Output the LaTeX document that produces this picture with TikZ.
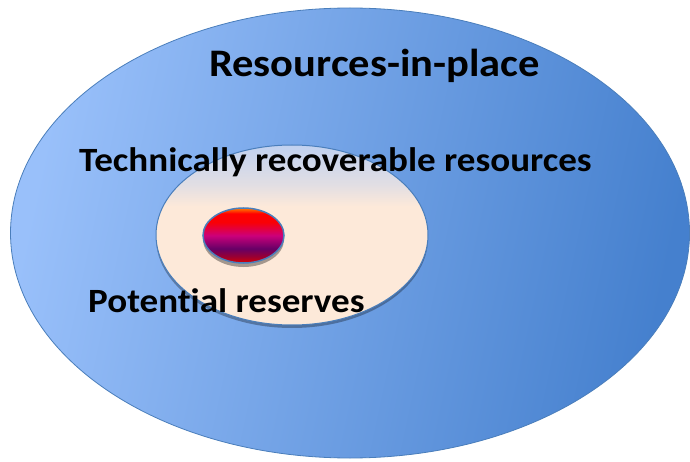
\documentclass[tikz,border=0pt]{standalone}
\usepackage{fontspec}
\setmainfont{Carlito}[Ligatures=NoCommon,FakeStretch=1.09]
\usetikzlibrary{shapes.geometric,shadows}
\definecolor{rimblue}{HTML}{4A7EBB}
\definecolor{skylight}{HTML}{99C0FA}
\definecolor{skydeep}{HTML}{4580CE}
\definecolor{peach}{HTML}{FDE9D9}
\definecolor{haze}{HTML}{C0D1F0}
\pgfdeclarehorizontalshading{inplace}{100bp}{color(0bp)=(skylight); color(25bp)=(skylight); color(75bp)=(skydeep); color(100bp)=(skydeep)}
\pgfdeclareverticalshading{recoverable}{100bp}{color(0bp)=(peach); color(25bp)=(peach); color(58bp)=(peach); color(64bp)=(haze!45!peach); color(75bp)=(haze); color(100bp)=(haze)}
\pgfdeclareverticalshading{reserves}{100bp}{color(0bp)=(red!85!black); color(25bp)=(red!85!black); color(31bp)=(purple!80!black); color(38bp)=(violet!80!black); color(50bp)=(magenta!60!red!80!black); color(62bp)=(red!90!purple); color(70bp)=(red); color(75bp)=(orange); color(100bp)=(orange)}

\begin{document}
\begin{tikzpicture}[x=1pt,y=1pt,
    blob/.style={ellipse,inner sep=0pt,draw=rimblue,shade},
    label/.style={font=\bfseries,anchor=base west,inner sep=0pt}]
    \useasboundingbox (0,0) rectangle (690,461);
    % nested resource classes
    \node[blob,line width=0.8pt,shading=inplace,shading angle=-12,
          minimum width=679pt,minimum height=450pt] (inplace) at (350,228) {};
    \node[blob,line width=1pt,shading=recoverable,
          drop shadow={shadow xshift=0pt,shadow yshift=-3pt,opacity=.3,fill=black},
          minimum width=272pt,minimum height=180pt] (recov) at (292,226) {};
    \node[blob,line width=1.5pt,shading=reserves,
          drop shadow={shadow xshift=0pt,shadow yshift=-4pt,opacity=.35,fill=black},
          minimum width=81pt,minimum height=55pt] (pot) at (243.5,225.5) {};
    % class names
    \node[label,font=\fontsize{39}{44}\selectfont\bfseries] (inplacetxt) at (209,384) {Resources-in-place};
    \node[label,font=\fontsize{34}{38}\selectfont\bfseries] (recovtxt) at (79,289) {Technically recoverable resources};
    \node[label,font=\fontsize{34}{38}\selectfont\bfseries] (pottxt) at (88,149) {Potential reserves};
\end{tikzpicture}
\end{document}
